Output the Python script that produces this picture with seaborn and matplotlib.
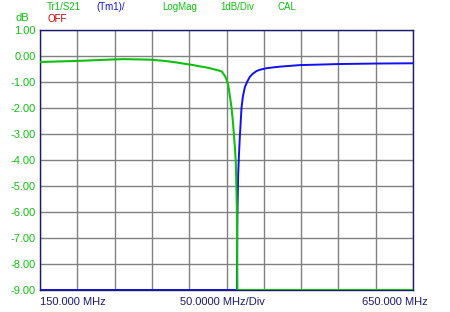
import matplotlib
matplotlib.use("Agg")
import matplotlib.pyplot as plt
import seaborn as sns
import pandas as pd

# Green trace (Tr1/S21) - frequency in MHz, level in dB
green_freq = [150.0, 199.6, 250.5, 262.6, 297.3, 317.4, 330.8, 344.2, 357.6, 364.3,
              371.0, 377.7, 384.4, 389.8, 393.8, 395.1, 397.8, 400.0, 402.2, 403.8,
              406.8, 408.5, 409.9, 411.2, 412.5, 413.9, 414.6, 650.0]
green_db = [-0.23, -0.19, -0.13, -0.12, -0.14, -0.19, -0.24, -0.30, -0.36, -0.40,
            -0.43, -0.47, -0.52, -0.56, -0.60, -0.66, -0.76, -0.90, -1.10, -1.40,
            -2.00, -2.50, -3.00, -3.50, -4.10, -5.80, -9.00, -9.00]

# Blue trace (Tm1)
blue_freq = [150.0, 413.9, 414.6, 415.6, 416.7, 417.9, 420.1, 422.0, 424.6, 427.9,
             431.3, 435.3, 440.2, 444.7, 453.6, 462.1, 471.5, 498.2, 525.0, 549.1,
             600.0, 650.0]
blue_db = [-9.00, -9.00, -6.20, -4.60, -3.80, -3.10, -2.00, -1.55, -1.20, -0.98,
           -0.80, -0.68, -0.58, -0.53, -0.47, -0.44, -0.41, -0.35, -0.33, -0.31,
           -0.29, -0.28]

y_ticks = [1, 0, -1, -2, -3, -4, -5, -6, -7, -8, -9]
y_labels = ["1.00", "0.00", "-1.00", "-2.00", "-3.00", "-4.00", "-5.00", "-6.00",
            "-7.00", "-8.00", "-9.00"]
x_grid = [150, 200, 250, 300, 350, 400, 450, 500, 550, 600, 650]

header = ["Tr1/S21", "(Tm1)/", "LogMag", "1dB/Div", "CAL"]
bottom_labels = ["150.000 MHz", "50.0000 MHz/Div", "650.000 MHz"]

GREEN = "#10C010"
BLUE = "#1010F0"
NAVY = "#1A1A70"
RED = "#C00000"

sns.set_theme(style="white")
plt.rcParams["font.family"] = ["Liberation Sans", "DejaVu Sans"]

fig = plt.figure(figsize=(4.5, 3.12), dpi=100)
ax = fig.add_axes([40 / 450, 1 - 290 / 312, 373 / 450, 260 / 312])

dfb = pd.DataFrame({"f": blue_freq, "db": blue_db})
dfg = pd.DataFrame({"f": green_freq, "db": green_db})

sns.lineplot(data=dfb, x="f", y="db", ax=ax, color=BLUE, linewidth=1.4, sort=False, zorder=3)
sns.lineplot(data=dfg, x="f", y="db", ax=ax, color=GREEN, linewidth=1.5, sort=False, zorder=4)

ax.set_xlim(150, 650)
ax.set_ylim(-9, 1)
ax.set_xticks(x_grid)
ax.set_xticklabels([])
ax.set_yticks(y_ticks)
ax.set_yticklabels(y_labels)
ax.tick_params(axis="both", length=0)
ax.tick_params(axis="y", labelsize=8, labelcolor=GREEN, pad=3)
ax.set_xlabel("")
ax.set_ylabel("")
ax.grid(True, color="#808080", linewidth=1.0)
ax.set_axisbelow(True)
for s in ax.spines.values():
    s.set_color(NAVY)
    s.set_linewidth(1.0)

# header texts
hx = [47, 96, 162, 220, 277]
hc = [GREEN, BLUE, GREEN, GREEN, GREEN]
for t, x, c in zip(header, hx, hc):
    fig.text(x / 450, 1 - 7 / 312, t, color=c, fontsize=7, ha="left", va="center")
fig.text(47 / 450, 1 - 19 / 312, "OFF", color=RED, fontsize=7, ha="left", va="center")
fig.text(22 / 450, 1 - 18 / 312, "dB", color=GREEN, fontsize=8, ha="center", va="center")

# bottom texts
fig.text(40 / 450, 1 - 302 / 312, bottom_labels[0], color=NAVY, fontsize=8, ha="left", va="center")
fig.text(222 / 450, 1 - 302 / 312, bottom_labels[1], color=NAVY, fontsize=8, ha="center", va="center")
fig.text(428 / 450, 1 - 302 / 312, bottom_labels[2], color=NAVY, fontsize=8, ha="right", va="center")

fig.savefig("out.png", dpi=100)
